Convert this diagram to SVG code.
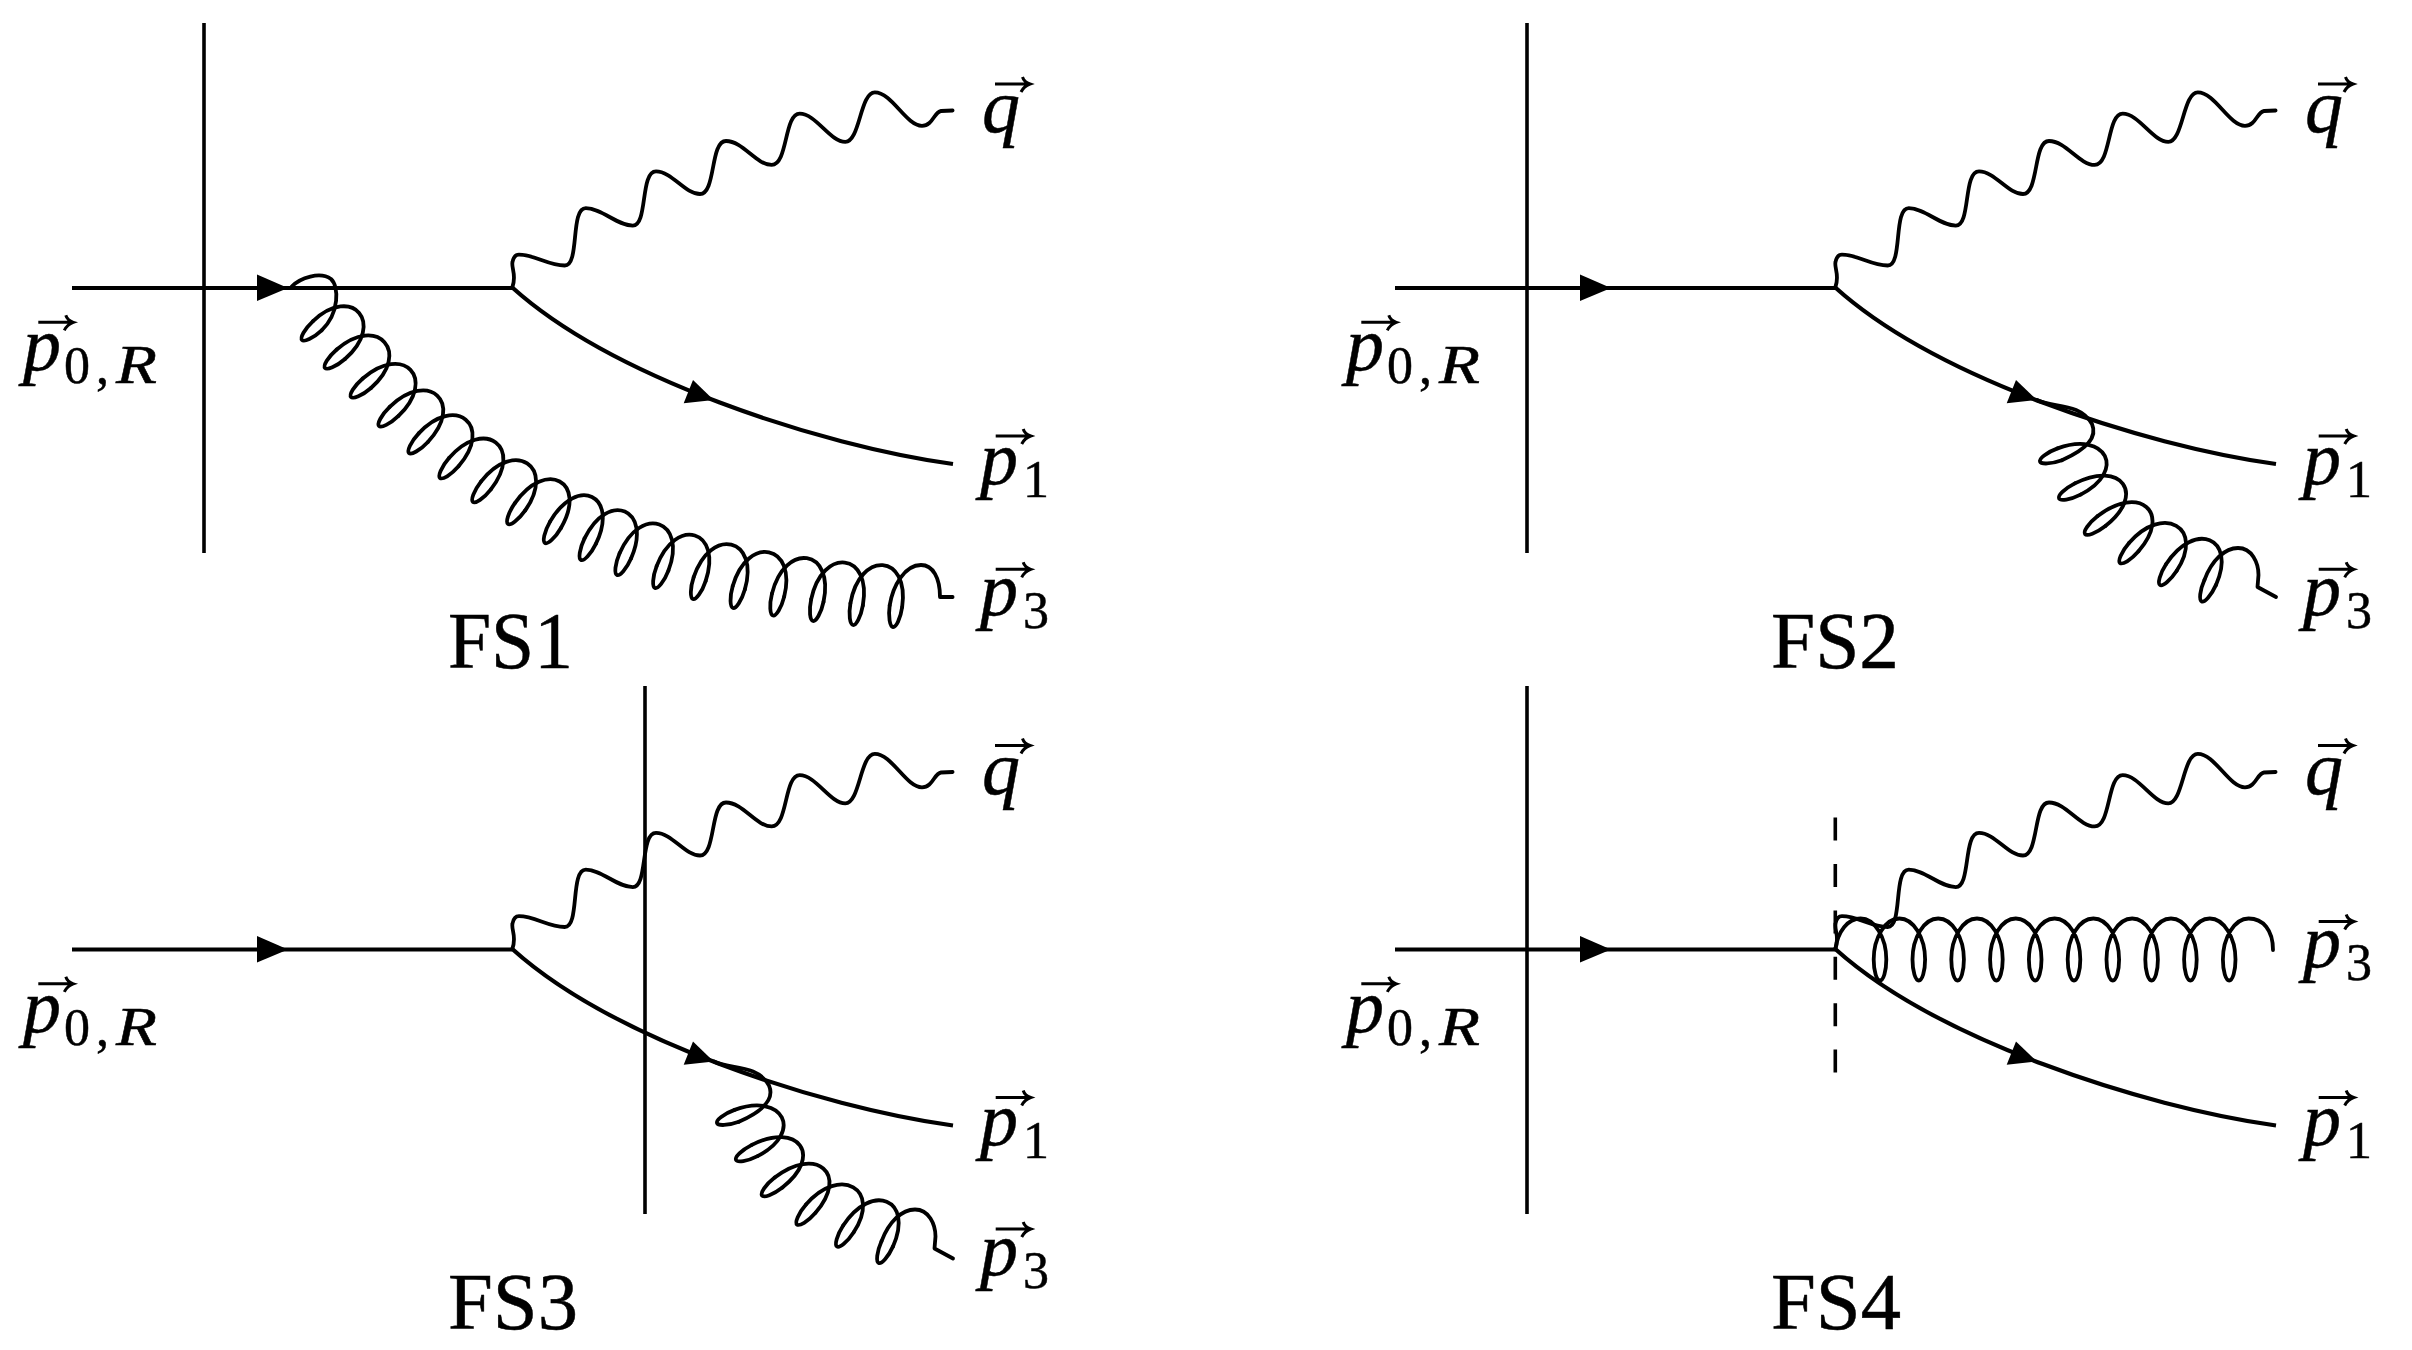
<svg xmlns="http://www.w3.org/2000/svg" width="2412" height="1350" viewBox="0 0 2412 1350">
<style>
.c{fill:none;stroke:#000;stroke-width:4.2}
.g{fill:none;stroke:#000;stroke-width:3.8;stroke-linecap:round;stroke-linejoin:round}
.v{fill:none;stroke:#000;stroke-width:3.6}
.h{fill:none;stroke:#000;stroke-width:3}
.a{fill:#000;stroke:none}
text{font-family:"Liberation Serif","DejaVu Serif",serif;fill:#000;stroke:#000;stroke-width:.5}
.m{font-size:76px;font-style:italic}
.s{font-size:52px;font-style:normal}
.r{font-size:54px;font-style:italic}
.t{font-size:80px}
</style>
<defs>
<path id="vec" class="h" d="M0,0H34M27.5,-7Q29,-2 35,0Q29,2 26,8"/>
<path id="U" d="M6.3,-21C6.3,-9 3,0 0,0C-3,0 -6.3,-9 -6.3,-21"/>
<g id="base">
<path class="c" d="M72,288H512.3"/>
<path class="c" d="M512.3,287.5C612.6,377.8 818.3,445.2 953,464"/>
<path class="g" d="M512.3,287.5C517,275 511,268 512.5,262C513.5,257 516,254.7 519,254.7C535,254.7 548,265.5 564.7,265.5C580,265.5 570,208.2 585.8,208.2C602,208.2 617,225.6 632.8,225.6C648,225.6 640,171.4 656,171.4C672,171.4 685,194 700,194C716,194 710,141 726,141C743,141 756,164.9 771.7,164.9C788,164.9 784,113.7 799.7,113.7C816,113.7 830,141.9 845.3,141.9C860,141.9 860,92.4 874.8,92.4C892,92.4 906,125.8 922,125.8C933,125.8 934,112 941,111L952.6,110.5"/>
</g>
<g id="arrows">
<polygon class="a" points="257,274.5 288,288 257,301"/>
<polygon class="a" points="683.7,403.2 693,379.9 713.7,399.9"/>
</g>
<g id="soft" class="g">
<path d="M2037,400C2052,408 2080,402 2092,424C2098,438 2085,450 2061.9,460.2"/>
<use href="#U" transform="translate(2040,461.5) rotate(70)"/>
<path d="M2057.6,448.4C2106.5,430.6 2126.9,471 2080.6,494.6"/>
<use href="#U" transform="translate(2059,498.5) rotate(63)"/>
<path d="M2074.9,483.4C2121.2,459.8 2146.4,494 2105.4,526"/>
<use href="#U" transform="translate(2085,534) rotate(52)"/>
<path d="M2097.7,516.1C2138.7,484.1 2172.6,512 2138.5,551.3"/>
<use href="#U" transform="translate(2120,563) rotate(41)"/>
<path d="M2129,543C2163.1,503.7 2205,527.2 2176.7,570.8"/>
<use href="#U" transform="translate(2160,585) rotate(33)"/>
<path d="M2166.2,564C2194.5,520.4 2237.2,537.4 2216,584.9"/>
<use href="#U" transform="translate(2201.7,601.5) rotate(24)"/>
<path d="M2204.5,579.8C2212,560 2225,548 2238,548C2252,548 2258.5,563 2258.5,575L2257.5,587L2276,597"/>
</g>
</defs>
<g id="connectors">
<g id="fs1-lines">
<path class="v" d="M204,23V553"/>
<use href="#base"/><use href="#arrows"/>
<g id="fs1-gluon" class="g">
<path d="M291.7,286.5C300,278 320,271 331,279C339,286 339.65,313.3 321.65,330.29"/>
<use href="#U" transform="translate(302,340) rotate(47)"/>
<path d="M313.05,321.07C352.52,284.24 385.76,323.56 344.99,358.98"/>
<use href="#U" transform="translate(325,368) rotate(49)"/>
<path d="M336.73,349.46C377.5,314.04 411.76,352.56 370.99,387.98"/>
<use href="#U" transform="translate(351,397) rotate(49)"/>
<path d="M362.73,378.46C403.5,343.04 437.31,378.4 398.48,415.93"/>
<use href="#U" transform="translate(379,426) rotate(46)"/>
<path d="M389.72,406.87C428.55,369.34 464.76,402.48 427.93,441.95"/>
<use href="#U" transform="translate(409,453) rotate(43)"/>
<path d="M418.71,433.35C455.54,393.88 493.96,425.5 458.54,466.27"/>
<use href="#U" transform="translate(440,478) rotate(41)"/>
<path d="M449.02,458.01C484.44,417.24 524.16,446.78 490.9,489.33"/>
<use href="#U" transform="translate(473,502) rotate(38)"/>
<path d="M480.98,481.57C514.24,439.02 556.21,466.19 525.21,510.42"/>
<use href="#U" transform="translate(508,524) rotate(35)"/>
<path d="M514.89,503.18C545.89,458.95 587.96,481.2 560.96,527.96"/>
<use href="#U" transform="translate(545,543) rotate(30)"/>
<path d="M550.04,521.66C577.04,474.9 619.51,495.33 595.86,543.88"/>
<use href="#U" transform="translate(581,560) rotate(26)"/>
<path d="M584.54,538.36C608.19,489.81 652.71,508.73 631.16,558.25"/>
<use href="#U" transform="translate(617,575) rotate(23.5)"/>
<path d="M619.6,553.23C641.15,503.71 687.73,520.21 668.4,570.65"/>
<use href="#U" transform="translate(655,588) rotate(21)"/>
<path d="M656.64,566.13C675.97,515.69 722.75,529.9 705.63,581.09"/>
<use href="#U" transform="translate(693,599) rotate(18.5)"/>
<path d="M693.69,577.09C710.81,525.9 759.75,537.67 744.85,589.56"/>
<use href="#U" transform="translate(733,608) rotate(16)"/>
<path d="M732.75,586.08C747.65,534.19 797.26,544.27 784.19,596.65"/>
<use href="#U" transform="translate(773,615.5) rotate(14)"/>
<path d="M771.97,593.61C785.04,541.23 834.76,548.96 823.53,601.77"/>
<use href="#U" transform="translate(813,621) rotate(12)"/>
<path d="M811.21,599.15C822.44,546.34 872.26,552.22 862.86,605.41"/>
<use href="#U" transform="translate(853,625) rotate(10)"/>
<path d="M850.44,603.21C859.84,550.02 909.67,553.63 902.16,607.09"/>
<use href="#U" transform="translate(893,627) rotate(8)"/>
<path d="M889.68,605.33C893,585 905,565 921,565C933,565 940,578 940,597L952.6,597"/>
</g>
</g>
<g id="fs2-lines">
<path class="v" d="M1527,23V553"/>
<g transform="translate(1323,0)"><use href="#base"/><use href="#arrows"/></g>
<use href="#soft"/>
</g>
<g id="fs3-lines">
<path class="v" d="M645,686V1214"/>
<g transform="translate(0,661.5)"><use href="#base"/><use href="#arrows"/></g>
<use href="#soft" transform="translate(-1323,661.5)"/>
</g>
<g id="fs4-lines">
<path class="v" d="M1527,686V1214"/>
<path class="v" stroke-dasharray="23 23.4" d="M1835.3,817.6V1073"/>
<g transform="translate(1323,661.5)"><use href="#base"/><use href="#arrows"/></g>
<path class="g" d="M1835.3,949.3C1838,931 1848,918.5 1860.6,918.5c14,0 25.7,19 25.7,41c0,12 -3,21 -6.3,21c-3.3,0 -6.3,-9 -6.3,-21c0,-22 11.7,-41 25.7,-41c14,0 25.7,19 25.7,41c0,12 -3,21 -6.3,21c-3.3,0 -6.3,-9 -6.3,-21c0,-22 11.7,-41 25.7,-41c14,0 25.7,19 25.7,41c0,12 -3,21 -6.3,21c-3.3,0 -6.3,-9 -6.3,-21c0,-22 11.7,-41 25.7,-41c14,0 25.7,19 25.7,41c0,12 -3,21 -6.3,21c-3.3,0 -6.3,-9 -6.3,-21c0,-22 11.7,-41 25.7,-41c14,0 25.7,19 25.7,41c0,12 -3,21 -6.3,21c-3.3,0 -6.3,-9 -6.3,-21c0,-22 11.7,-41 25.7,-41c14,0 25.7,19 25.7,41c0,12 -3,21 -6.3,21c-3.3,0 -6.3,-9 -6.3,-21c0,-22 11.7,-41 25.7,-41c14,0 25.7,19 25.7,41c0,12 -3,21 -6.3,21c-3.3,0 -6.3,-9 -6.3,-21c0,-22 11.7,-41 25.7,-41c14,0 25.7,19 25.7,41c0,12 -3,21 -6.3,21c-3.3,0 -6.3,-9 -6.3,-21c0,-22 11.7,-41 25.7,-41c14,0 25.7,19 25.7,41c0,12 -3,21 -6.3,21c-3.3,0 -6.3,-9 -6.3,-21c0,-22 11.7,-41 25.7,-41c14,0 25.7,19 25.7,41c0,12 -3,21 -6.3,21c-3.3,0 -6.3,-9 -6.3,-21c0,-22 11.7,-41 25.7,-41C2263,918.5 2273,930 2273,950"/>
</g>
</g>
<g id="fs1-p0"><text class="m" x="23" y="370">p</text><use href="#vec" x="38.3" y="322.3"/><text class="s" x="64" y="383">0<tspan x="96">,</tspan></text><text class="r" x="116" y="383" textLength="41" lengthAdjust="spacingAndGlyphs">R</text></g>
<g id="fs1-q"><text class="m" x="982" y="132">q</text><use href="#vec" x="995" y="84"/></g>
<g id="fs1-p1"><text class="m" x="980" y="483.5">p</text><use href="#vec" x="995.7" y="436"/><text class="s" x="1023" y="496.5">1</text></g>
<g id="fs1-p3"><text class="m" x="980" y="614.5">p</text><use href="#vec" x="995.7" y="569.3"/><text class="s" x="1023" y="628">3</text></g>
<g id="fs1-title"><text class="t" x="448" y="667.5" textLength="125" lengthAdjust="spacingAndGlyphs">FS1</text></g>
<g id="fs2-p0"><text class="m" x="1346" y="370">p</text><use href="#vec" x="1361.3" y="322.3"/><text class="s" x="1387" y="383">0<tspan x="1419">,</tspan></text><text class="r" x="1439" y="383" textLength="41" lengthAdjust="spacingAndGlyphs">R</text></g>
<g id="fs2-q"><text class="m" x="2305" y="132">q</text><use href="#vec" x="2318" y="84"/></g>
<g id="fs2-p1"><text class="m" x="2303" y="483.5">p</text><use href="#vec" x="2318.7" y="436"/><text class="s" x="2346" y="496.5">1</text></g>
<g id="fs2-p3"><text class="m" x="2303" y="614.5">p</text><use href="#vec" x="2318.7" y="569.3"/><text class="s" x="2346" y="628">3</text></g>
<g id="fs2-title"><text class="t" x="1771" y="667.5" textLength="128" lengthAdjust="spacingAndGlyphs">FS2</text></g>
<g id="fs3-p0"><text class="m" x="23" y="1031.5">p</text><use href="#vec" x="38.3" y="983.8"/><text class="s" x="64" y="1044.5">0<tspan x="96">,</tspan></text><text class="r" x="116" y="1044.5" textLength="41" lengthAdjust="spacingAndGlyphs">R</text></g>
<g id="fs3-q"><text class="m" x="982" y="793.5">q</text><use href="#vec" x="995" y="745.5"/></g>
<g id="fs3-p1"><text class="m" x="980" y="1145">p</text><use href="#vec" x="995.7" y="1097.5"/><text class="s" x="1023" y="1158">1</text></g>
<g id="fs3-p3"><text class="m" x="980" y="1274.5">p</text><use href="#vec" x="995.7" y="1229"/><text class="s" x="1023" y="1288">3</text></g>
<g id="fs3-title"><text class="t" x="448" y="1329" textLength="130" lengthAdjust="spacingAndGlyphs">FS3</text></g>
<g id="fs4-p0"><text class="m" x="1346" y="1031.5">p</text><use href="#vec" x="1361.3" y="983.8"/><text class="s" x="1387" y="1044.5">0<tspan x="1419">,</tspan></text><text class="r" x="1439" y="1044.5" textLength="41" lengthAdjust="spacingAndGlyphs">R</text></g>
<g id="fs4-q"><text class="m" x="2305" y="793.5">q</text><use href="#vec" x="2318" y="745.5"/></g>
<g id="fs4-p3"><text class="m" x="2303" y="966.5">p</text><use href="#vec" x="2318.7" y="921.5"/><text class="s" x="2346" y="980">3</text></g>
<g id="fs4-p1"><text class="m" x="2303" y="1145">p</text><use href="#vec" x="2318.7" y="1097.5"/><text class="s" x="2346" y="1158">1</text></g>
<g id="fs4-title"><text class="t" x="1771" y="1329" textLength="130" lengthAdjust="spacingAndGlyphs">FS4</text></g>
</svg>
